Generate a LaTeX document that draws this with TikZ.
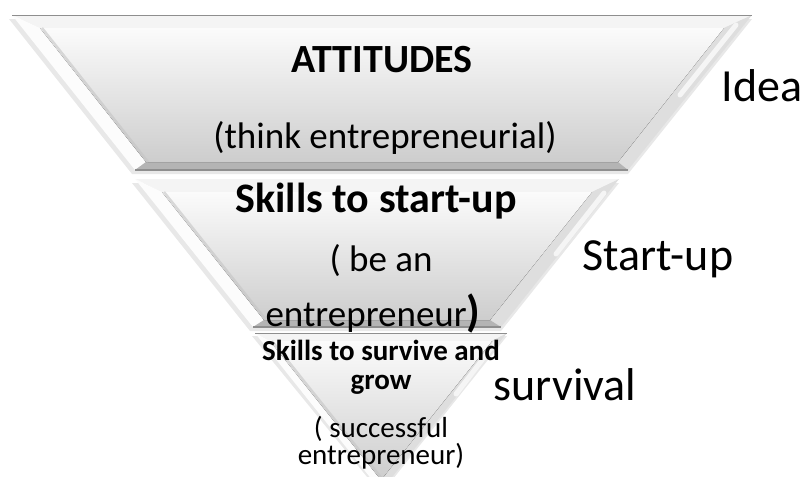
\documentclass[tikz,border=0pt]{standalone}
\usepackage{fontspec}
\setmainfont{Carlito}
\definecolor{bevelLight}{HTML}{FCFCFC}
\definecolor{bevelTop}{HTML}{F4F4F4}
\definecolor{bevelRight}{HTML}{DEDEDE}
\definecolor{bevelBottom}{HTML}{B4B4B4}
\definecolor{faceTop}{HTML}{FBFBFB}
\definecolor{faceBot}{HTML}{CDCDCD}
\definecolor{edgeLine}{HTML}{8E8E8E}
\definecolor{innerShade}{HTML}{C4C4C4}
\begin{document}
\begin{tikzpicture}[x=1pt,y=-1pt,
  shadowfill/.style={fill=black,fill opacity=0.09},
  leftfacet/.style={fill=bevelLight},
  topfacet/.style={fill=bevelTop},
  rightfacet/.style={fill=bevelRight},
  bottomfacet/.style={fill=bevelBottom},
  face/.style={top color=faceTop,bottom color=faceBot},
  crease/.style={draw=innerShade,line width=2.5pt,opacity=0.6},
  gleam/.style={draw=white,line width=5pt,opacity=0.7,line cap=round},
  rim/.style={draw=edgeLine,line width=0.8pt},
  txt/.style={anchor=base,inner sep=0pt,text=black},
  headA/.style={txt,font=\bfseries\fontsize{40}{40}\selectfont},
  bodyA/.style={txt,font=\fontsize{37}{37}\selectfont},
  headB/.style={txt,font=\bfseries\fontsize{42}{42}\selectfont},
  bodyB/.style={txt,font=\fontsize{37}{37}\selectfont},
  headC/.style={txt,font=\bfseries\fontsize{29}{29}\selectfont},
  bodyC/.style={txt,font=\fontsize{29}{29}\selectfont},
  stage/.style={txt,font=\fontsize{46}{46}\selectfont}]
\useasboundingbox (0,0) rectangle (804,477);
\clip (0,0) rectangle (804,477);

% ---------- top band: attitudes ----------
\coordinate (a1) at (12,15);   \coordinate (a2) at (752,15);
\coordinate (a3) at (628,170); \coordinate (a4) at (135,170);
\coordinate (ai1) at (40,28);  \coordinate (ai2) at (724,28);
\coordinate (ai3) at (618,162);\coordinate (ai4) at (146,162);
\fill[shadowfill] ([xshift=-3pt,yshift=-4pt]a1) -- ([yshift=-4pt]a2) -- ([yshift=-4pt]a3) -- ([xshift=-3pt,yshift=-4pt]a4) -- cycle;
\fill[topfacet] (a1) -- (a2) -- (ai2) -- (ai1) -- cycle;
\fill[leftfacet] (a1) -- (ai1) -- (ai4) -- (a4) -- cycle;
\fill[rightfacet] (a2) -- (a3) -- (ai3) -- (ai2) -- cycle;
\fill[bottomfacet] (a4) -- (ai4) -- (ai3) -- (a3) -- cycle;
\fill[face] (ai1) -- (ai2) -- (ai3) -- (ai4) -- cycle;
\draw[crease] ([xshift=2pt]ai1) -- ([xshift=2pt]ai4);
\coordinate (ag1) at (736,25); \coordinate (ag2) at (680,95);
\draw[gleam] (ag1) -- (ag2);
\draw[rim] (a1) -- (a2);
\draw[draw=edgeLine,line width=1.2pt] (a4) -- (a3);

\node[headA] (attitudes) at (382,72) {ATTITUDES};
\node[bodyA] (think) at (385,148) {(think entrepreneurial)};

% ---------- middle band: start-up skills ----------
\coordinate (b1) at (135,179); \coordinate (b2) at (619,179);
\coordinate (b3) at (501,327); \coordinate (b4) at (253,327);
\coordinate (bi1) at (162,192); \coordinate (bi2) at (592,192);
\coordinate (bi3) at (490,320); \coordinate (bi4) at (264,320);
\fill[shadowfill] ([xshift=-3pt,yshift=-4pt]b1) -- ([yshift=-4pt]b2) -- ([yshift=-4pt]b3) -- ([xshift=-3pt,yshift=-4pt]b4) -- cycle;
\fill[topfacet] (b1) -- (b2) -- (bi2) -- (bi1) -- cycle;
\fill[leftfacet] (b1) -- (bi1) -- (bi4) -- (b4) -- cycle;
\fill[rightfacet] (b2) -- (b3) -- (bi3) -- (bi2) -- cycle;
\fill[bottomfacet] (b4) -- (bi4) -- (bi3) -- (b3) -- cycle;
\fill[face] (bi1) -- (bi2) -- (bi3) -- (bi4) -- cycle;
\draw[crease] ([xshift=2pt]bi1) -- ([xshift=2pt]bi4);
\coordinate (bg1) at (604,193); \coordinate (bg2) at (556,254);
\draw[gleam] (bg1) -- (bg2);
\draw[draw=edgeLine,line width=1.2pt] (b4) -- (b3);

\node[headB] (startskills) at (376,212) {Skills to start-up};
\node[bodyB] (bean) at (381,271) {( be an};
\node[bodyB] (entre) at (373,326) {entrepreneur\textbf{\fontsize{44}{44}\selectfont)}};

% ---------- bottom band: survival skills ----------
\coordinate (c1) at (255,333); \coordinate (c2) at (507,333);
\coordinate (c3) at (381,491);
\coordinate (ci1) at (270,341); \coordinate (ci2) at (492,341);
\coordinate (ci3) at (381,480);
\fill[shadowfill] ([xshift=-3pt,yshift=-3pt]c1) -- ([yshift=-3pt]c2) -- ([yshift=-3pt]c3) -- cycle;
\fill[topfacet] (c1) -- (c2) -- (ci2) -- (ci1) -- cycle;
\fill[leftfacet] (c1) -- (ci1) -- (ci3) -- (c3) -- cycle;
\fill[rightfacet] (c2) -- (c3) -- (ci3) -- (ci2) -- cycle;
\fill[face] (ci1) -- (ci2) -- (ci3) -- cycle;
\draw[crease] ([xshift=2pt]ci1) -- ([xshift=2pt]ci3);
\coordinate (cg1) at (496,342); \coordinate (cg2) at (456,394);
\draw[gleam] (cg1) -- (cg2);
\draw[rim] (c1) -- (c2);

\node[headC] (surviveskills) at (381,360) {Skills to survive and};
\node[headC] (grow) at (381,389) {grow};
\node[bodyC] (successful) at (381,437) {( successful};
\node[bodyC] (entre2) at (381,464) {entrepreneur)};

% ---------- stage labels ----------
\node[stage] (idea) at (762,101) {Idea};
\node[stage] (startup) at (658,270) {Start-up};
\node[stage] (survival) at (565,400) {survival};
\end{tikzpicture}
\end{document}
